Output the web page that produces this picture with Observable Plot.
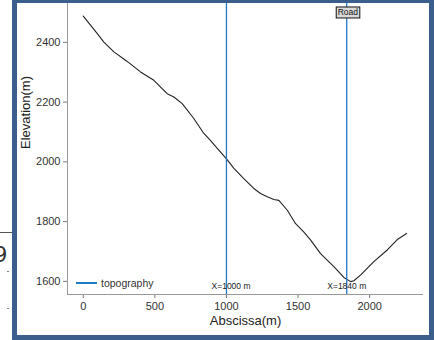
<!DOCTYPE html>
<html>
<head>
<meta charset="utf-8">
<script src="https://cdn.jsdelivr.net/npm/d3@7"></script>
<script src="https://cdn.jsdelivr.net/npm/@observablehq/plot@0.6"></script>
<style>
  html, body { margin: 0; padding: 0; background: #fff; }
  body { width: 434px; height: 340px; position: relative; overflow: hidden; font-family: "Liberation Sans", Arial, sans-serif; }
  #frame { position: absolute; left: 12px; top: 0; width: 412px; height: 332px;
           border-style: solid; border-color: #3c5e8c; border-width: 3px 5px 5px 5px; background: #fff; }
  #chart { position: absolute; left: 0; top: 0; }
  #legend { position: absolute; left: 59px; top: 270px; height: 20px; display: flex; align-items: center;
            font-size: 10.5px; color: #333; }
  #legend .sw { width: 21px; height: 1.5px; background: #1f7ac4; margin-right: 4px; }
  .frag-line { position: absolute; left: 0; top: 232px; width: 12px; height: 1px; background: #555; }
  .frag-nine { position: absolute; left: -6px; top: 243px; font-size: 21px; color: #333; font-family: "DejaVu Sans", sans-serif; }
  .frag-tick { position: absolute; left: 7px; width: 2px; height: 1px; background: #888; }
</style>
</head>
<body>
<div class="frag-line"></div>
<div class="frag-nine">9</div>
<div class="frag-tick" style="top:271px"></div>
<div class="frag-tick" style="top:308px"></div>
<div id="frame">
  <div id="chart"></div>
  <div id="legend"><div class="sw"></div><span>topography</span></div>
</div>
<script>
// Topography profile
const profileX    = [0, 52, 98, 144, 214, 295, 318, 400, 493, 586, 633, 691, 772, 842, 877, 936, 1003, 1052, 1121, 1191, 1238, 1285, 1331, 1366, 1425, 1483, 1541, 1587, 1657, 1750, 1820, 1867, 1890, 1936, 2029, 2123, 2193, 2258];
const profileElev = [2488, 2457, 2429, 2401, 2368, 2340, 2332, 2301, 2273, 2228, 2217, 2195, 2145, 2095, 2078, 2045, 2008, 1978, 1944, 1911, 1894, 1883, 1874, 1871, 1838, 1793, 1765, 1739, 1693, 1649, 1613, 1599, 1602, 1621, 1666, 1705, 1740, 1760];

// Marker lines and their labels
const markerX      = [1000, 1840];
const markerLabels = ["X=1000 m", "X=1840 m"];
const markerLabelX = [1032, 1840];
const markerLabelY = [1584, 1584];

// Road annotation
const roadText = ["Road"];
const roadX = [1848];
const roadY = [2499];

// Axes
const xTicks = [0, 500, 1000, 1500, 2000];
const yTicks = [1600, 1800, 2000, 2200, 2400];
const xDomain = [-110, 2376];
const yDomain = [1556, 2530];

const profile = profileX.map((x, i) => ({x, y: profileElev[i]}));
const markerText = markerLabels.map((t, i) => ({x: markerLabelX[i], y: markerLabelY[i], t}));
const road = roadText.map((t, i) => ({x: roadX[i], y: roadY[i], t}));

const plain = d3.format("d");

const plot = Plot.plot({
  width: 412,
  height: 332,
  marginLeft: 50,
  marginRight: 6,
  marginTop: 0,
  marginBottom: 41,
  style: {fontFamily: "'Liberation Sans', Arial, sans-serif", background: "transparent", overflow: "visible"},
  x: {domain: xDomain},
  y: {domain: yDomain},
  marks: [
    Plot.axisX({ticks: xTicks, tickFormat: plain, tickSize: 4, tickPadding: 4, fontSize: 11, stroke: "#777", fill: "#333", label: null}),
    Plot.axisY({ticks: yTicks, tickFormat: plain, tickSize: 4, tickPadding: 3, fontSize: 11, stroke: "#777", fill: "#333", label: null}),
    Plot.ruleX([xDomain[0]], {stroke: "#999", strokeWidth: 1}),
    Plot.ruleY([yDomain[0]], {stroke: "#999", strokeWidth: 1}),
    Plot.text(["Abscissa(m)"], {frameAnchor: "bottom", dy: 30, fontSize: 13, fill: "#222"}),
    Plot.text(["Elevation(m)"], {frameAnchor: "left", dx: -42, rotate: -90, fontSize: 13, fill: "#222"}),
    Plot.line(profile, {x: "x", y: "y", stroke: "#222", strokeWidth: 1.1}),
    Plot.ruleX(markerX, {stroke: "#1f7ac4", strokeWidth: 1.3}),
    Plot.text(markerText, {x: "x", y: "y", text: "t", fontSize: 8.5, fill: "#222"}),
    Plot.text(road, {x: "x", y: "y", text: "t", fontSize: 8.5, fill: "#111", className: "roadlabel"})
  ]
});
document.getElementById("chart").appendChild(plot);

// Draw a box behind the Road label, sized from the rendered text
const roadG = plot.querySelector(".roadlabel");
if (roadG) {
  roadG.querySelectorAll("text").forEach(t => {
    const b = t.getBBox();
    const ns = "http://www.w3.org/2000/svg";
    const r = document.createElementNS(ns, "rect");
    r.setAttribute("x", b.x - 1.5);
    r.setAttribute("y", b.y - 0.5);
    r.setAttribute("width", b.width + 3);
    r.setAttribute("height", b.height + 1);
    r.setAttribute("fill", "#d9d9d9");
    r.setAttribute("stroke", "#111");
    r.setAttribute("stroke-width", "1");
    const tr = t.getAttribute("transform");
    if (tr) r.setAttribute("transform", tr);
    t.parentNode.insertBefore(r, t);
  });
}
</script>
</body>
</html>
